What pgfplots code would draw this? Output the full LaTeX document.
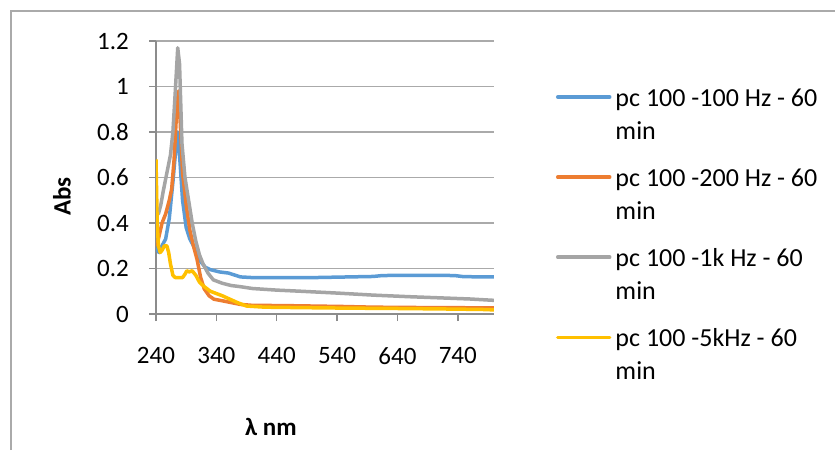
\documentclass[border=0pt]{standalone}
\usepackage{pgfplots}
\pgfplotsset{compat=1.18}
\usepackage{fontspec}
\setmainfont{Carlito}

\definecolor{sblue}{RGB}{91,155,213}
\definecolor{sorange}{RGB}{237,125,49}
\definecolor{sgray}{RGB}{165,165,165}
\definecolor{syellow}{RGB}{255,192,0}
\definecolor{gridc}{RGB}{170,170,170}
\definecolor{axisc}{RGB}{140,140,140}

\newcommand{\legtxt}[1]{\parbox[t]{230pt}{\strut #1\\min\strut}}

\begin{document}
\begin{tikzpicture}[x=1pt,y=1pt]
\useasboundingbox (0,0) rectangle (835,450);
\draw[gridc, line width=2pt] (11,0) -- (11,439) -- (835,439);
\begin{axis}[
    at={(156pt,136pt)}, anchor=south west,
    scale only axis,
    width=338pt, height=273pt,
    xmin=240, xmax=800,
    ymin=0, ymax=1.2,
    xtick={240,340,...,740},
    ytick={0,0.2,...,1.2},
    axis x line*=bottom, axis y line*=left,
    axis line style={-, draw=axisc, line width=1.5pt},
    tick style={draw=axisc, line width=1.5pt},
    tick align=outside,
    major tick length=7pt,
    ymajorgrids,
    grid style={draw=gridc, line width=1.5pt},
    /pgf/number format/assume math mode=true,
    ticklabel style={font=\fontsize{25}{30}\selectfont, inner sep=0pt},
    xticklabel style={anchor=north, yshift=-26pt},
    yticklabel style={anchor=east, xshift=-20pt},
    every axis y label/.style={at={(rel axis cs:-0.278,0.43)}, rotate=90, anchor=center},
    every axis x label/.style={at={(rel axis cs:0.34,-0.414)}, anchor=center},
    ylabel={\fontsize{25}{30}\selectfont\bfseries Abs},
    xlabel={\fontsize{25}{30}\selectfont\bfseries λ nm},
    legend style={at={(rel axis cs:1.1834,0.8465)}, anchor=north west,
        draw=none, inner sep=0pt, outer sep=0pt, row sep=55.5pt, column sep=4pt,
        font=\fontsize{26}{33}\selectfont,
        cells={anchor=base west}, nodes={inner sep=0pt}},
    legend image code/.code={\draw[#1, line width=3.5pt, line cap=round] (0pt,9pt) -- (52pt,9pt);},
    every axis plot/.append style={line width=3.5pt, line join=round},
]

\addplot[sblue] coordinates {
(240,0.29) (245,0.27) (250,0.30) (256,0.33) (262,0.42) (268,0.58) (272,0.70)
(276,0.80) (280,0.66) (284,0.50) (290,0.38) (296,0.33) (302,0.30) (308,0.26)
(314,0.23) (322,0.205) (330,0.195) (345,0.185) (360,0.18) (380,0.163) (400,0.16)
(450,0.16) (500,0.16) (540,0.162) (600,0.165) (615,0.169) (650,0.17) (700,0.17)
(735,0.169) (750,0.164) (800,0.163)
};
\addlegendentry{\legtxt{pc 100 -100 Hz - 60}}

\addplot[sorange] coordinates {
(240,0.30) (244,0.33) (250,0.40) (256,0.44) (262,0.50) (266,0.55) (270,0.68)
(274,0.88) (277,0.98) (280,0.85) (284,0.62) (290,0.48) (296,0.37) (302,0.30)
(308,0.24) (314,0.16) (320,0.11) (328,0.08) (336,0.065) (350,0.058) (365,0.05)
(380,0.042) (400,0.038) (450,0.037) (500,0.035) (550,0.033) (600,0.03)
(700,0.028) (800,0.027)
};
\addlegendentry{\legtxt{pc 100 -200 Hz - 60}}

\addplot[sgray] coordinates {
(240,0.45) (244,0.44) (248,0.48) (252,0.54) (258,0.62) (264,0.70) (268,0.80)
(272,0.98) (276,1.17) (279,1.10) (283,0.75) (288,0.60) (294,0.50) (300,0.40)
(306,0.32) (312,0.26) (318,0.22) (326,0.18) (335,0.15) (350,0.135) (365,0.125)
(380,0.12) (400,0.112) (440,0.105) (480,0.10) (540,0.092) (600,0.083)
(660,0.076) (720,0.07) (760,0.066) (800,0.06)
};
\addlegendentry{\legtxt{pc 100 -1k Hz - 60}}

\addplot[syellow] coordinates {
(240,0.68) (242,0.40) (244,0.30) (247,0.27) (250,0.28) (254,0.30) (258,0.30)
(261,0.27) (264,0.22) (268,0.17) (272,0.16) (278,0.16) (284,0.16) (288,0.175)
(291,0.19) (295,0.185) (300,0.19) (306,0.17) (312,0.14) (320,0.12) (330,0.10)
(340,0.09) (350,0.08) (360,0.068) (375,0.05) (390,0.035) (420,0.03)
(480,0.028) (550,0.026) (650,0.024) (720,0.022) (780,0.02) (800,0.018)
};
\addlegendentry{\legtxt{pc 100 -5kHz - 60}}

\end{axis}
\end{tikzpicture}
\end{document}
